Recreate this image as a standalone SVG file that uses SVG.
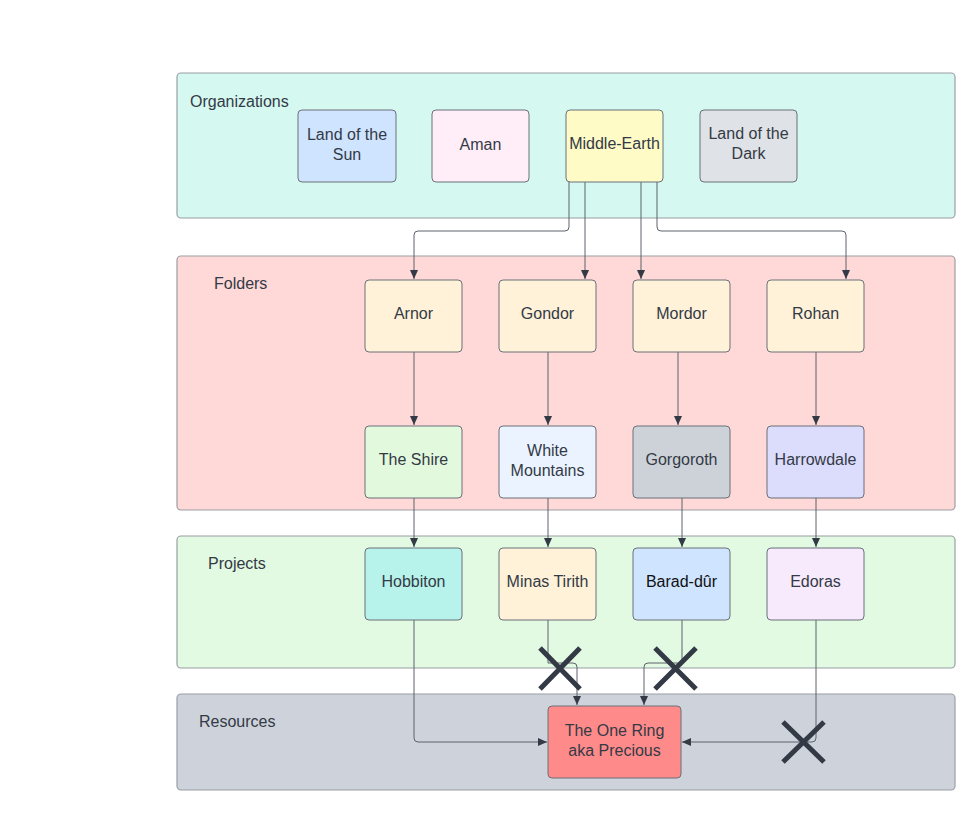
<svg xmlns="http://www.w3.org/2000/svg" width="980" height="815" viewBox="0 0 980 815">
<style>
.cont{stroke:#9a9ea5;stroke-width:1.2}
.node{stroke:#6b7079;stroke-width:1}
.lbl{font-family:"Liberation Sans",Arial,sans-serif;font-size:16px;fill:#333a45}
.t{font-family:"Liberation Sans",Arial,sans-serif;font-size:16px;fill:#333a45;text-anchor:middle}
.c{fill:none;stroke:#5d636b;stroke-width:1}
.x{stroke:#333a45;stroke-width:5;stroke-linecap:butt}
</style>
<defs>
<marker id="ah" markerWidth="10" markerHeight="10" refX="9" refY="5" orient="auto" markerUnits="userSpaceOnUse">
<path d="M0,1 L9,5 L0,9 Z" fill="#333a45"/>
</marker>
</defs>
<rect width="980" height="815" fill="#ffffff"/>
<g id="containers">
<g id="organizations"><rect class="cont" x="177" y="73" width="778" height="145" rx="4" fill="#d5f8f1"/><text class="lbl" x="190" y="107">Organizations</text></g>
<g id="folders"><rect class="cont" x="177" y="256" width="778" height="254" rx="4" fill="#ffd8d8"/><text class="lbl" x="214" y="289">Folders</text></g>
<g id="projects"><rect class="cont" x="177" y="536" width="778" height="132" rx="4" fill="#e2f9e2"/><text class="lbl" x="208" y="569">Projects</text></g>
<g id="resources"><rect class="cont" x="177" y="694" width="778" height="96" rx="4" fill="#ced3db"/><text class="lbl" x="199" y="727">Resources</text></g>
</g>
<g id="connectors">
<path class="c" d="M569,182 V227 Q569,231 565,231 H418 Q414,231 414,235 V279" marker-end="url(#ah)"/>
<path class="c" d="M585,182 V279" marker-end="url(#ah)"/>
<path class="c" d="M641,182 V279" marker-end="url(#ah)"/>
<path class="c" d="M657,182 V227 Q657,231 661,231 H842 Q846,231 846,235 V279" marker-end="url(#ah)"/>
<path class="c" d="M414,352 V425" marker-end="url(#ah)"/>
<path class="c" d="M548,352 V425" marker-end="url(#ah)"/>
<path class="c" d="M678,352 V425" marker-end="url(#ah)"/>
<path class="c" d="M816,352 V425" marker-end="url(#ah)"/>
<path class="c" d="M414,498 V547" marker-end="url(#ah)"/>
<path class="c" d="M548,498 V547" marker-end="url(#ah)"/>
<path class="c" d="M682,498 V547" marker-end="url(#ah)"/>
<path class="c" d="M816,498 V547" marker-end="url(#ah)"/>
<path class="c" d="M414,620 V738 Q414,742 418,742 H547" marker-end="url(#ah)"/>
<path class="c" d="M548,620 V663 H573 Q577,663 577,667 V705" marker-end="url(#ah)"/>
<path class="c" d="M682,620 V663 H648 Q644,663 644,667 V705" marker-end="url(#ah)"/>
<path class="c" d="M816,620 V738 Q816,742 812,742 H682" marker-end="url(#ah)"/>
</g>
<g id="crosses">
<path class="x" d="M540,648 L580,689 M580,648 L540,689"/>
<path class="x" d="M655,648 L696,689 M696,648 L655,689"/>
<path class="x" d="M783,722 L824,762 M824,722 L783,762"/>
</g>
<g id="n-land-of-the-sun"><rect class="node" x="298" y="110" width="98" height="72" rx="4" fill="#cfe4ff"/><text class="t" x="347" y="140">Land of the</text><text class="t" x="347" y="160">Sun</text></g>
<g id="n-aman"><rect class="node" x="432" y="110" width="97" height="72" rx="4" fill="#ffeef8"/><text class="t" x="480.5" y="150">Aman</text></g>
<g id="n-middle-earth"><rect class="node" x="566" y="110" width="97" height="72" rx="4" fill="#fffbc7"/><text class="t" x="614.5" y="149">Middle-Earth</text></g>
<g id="n-land-of-the-dark"><rect class="node" x="700" y="110" width="97" height="72" rx="4" fill="#dfe2e6"/><text class="t" x="748.5" y="139">Land of the</text><text class="t" x="748.5" y="159">Dark</text></g>
<g id="n-arnor"><rect class="node" x="365" y="280" width="97" height="72" rx="4" fill="#fff2d9"/><text class="t" x="413.5" y="319">Arnor</text></g>
<g id="n-gondor"><rect class="node" x="499" y="280" width="97" height="72" rx="4" fill="#fff2d9"/><text class="t" x="547.5" y="319">Gondor</text></g>
<g id="n-mordor"><rect class="node" x="633" y="280" width="97" height="72" rx="4" fill="#fff2d9"/><text class="t" x="681.5" y="319">Mordor</text></g>
<g id="n-rohan"><rect class="node" x="767" y="280" width="97" height="72" rx="4" fill="#fff2d9"/><text class="t" x="815.5" y="319">Rohan</text></g>
<g id="n-the-shire"><rect class="node" x="365" y="426" width="97" height="72" rx="4" fill="#e2f9de"/><text class="t" x="413.5" y="465">The Shire</text></g>
<g id="n-white-mountains"><rect class="node" x="499" y="426" width="97" height="72" rx="4" fill="#eaf3ff"/><text class="t" x="547.5" y="456">White</text><text class="t" x="547.5" y="476">Mountains</text></g>
<g id="n-gorgoroth"><rect class="node" x="633" y="426" width="97" height="72" rx="4" fill="#cdd2d9"/><text class="t" x="681.5" y="465">Gorgoroth</text></g>
<g id="n-harrowdale"><rect class="node" x="767" y="426" width="97" height="72" rx="4" fill="#dcdcfc"/><text class="t" x="815.5" y="465">Harrowdale</text></g>
<g id="n-hobbiton"><rect class="node" x="365" y="548" width="97" height="72" rx="4" fill="#b8f3eb"/><text class="t" x="413.5" y="587">Hobbiton</text></g>
<g id="n-minas-tirith"><rect class="node" x="499" y="548" width="97" height="72" rx="4" fill="#fff2d9"/><text class="t" x="547.5" y="587">Minas Tirith</text></g>
<g id="n-barad-dur"><rect class="node" x="633" y="548" width="97" height="72" rx="4" fill="#cfe4ff"/><text class="t" x="681.5" y="587" style="fill:#111111">Barad-dûr</text></g>
<g id="n-edoras"><rect class="node" x="767" y="548" width="97" height="72" rx="4" fill="#f7eafd"/><text class="t" x="815.5" y="587">Edoras</text></g>
<g id="n-the-one-ring"><rect class="node" x="548" y="706" width="133" height="72" rx="4" fill="#ff8a8a"/><text class="t" x="614.5" y="736">The One Ring</text><text class="t" x="614.5" y="756">aka Precious</text></g>
</svg>
